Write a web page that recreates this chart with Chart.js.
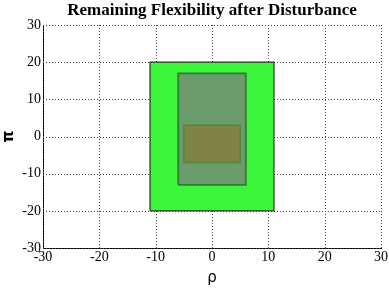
<!DOCTYPE html>
<html>
<head>
<meta charset="utf-8">
<script src="https://cdn.jsdelivr.net/npm/chart.js@4"></script>
<style>
  html, body { margin: 0; padding: 0; background: #fff; }
  #wrap { width: 389px; height: 289px; }
</style>
</head>
<body>
<div id="wrap"><canvas id="myChart" width="389" height="289"></canvas></div>
<script>
// rectangles as [xmin, xmax, ymin, ymax]
const outerBox = [-11, 11, -20, 20];
const middleBox = [-6, 6, -13, 17];
const innerBox = [-5, 5, -7, 3];
const tickValues = [-30, -20, -10, 0, 10, 20, 30];
const titleText = 'Remaining Flexibility after Disturbance';

function corners(b) {
    return [
        { x: b[0], y: b[2] }, { x: b[1], y: b[2] },
        { x: b[1], y: b[3] }, { x: b[0], y: b[3] },
        { x: b[0], y: b[2] }
    ];
}

const ctx = document.getElementById('myChart');
const myChart = new Chart(ctx, {
    type: 'scatter',
    data: {
        datasets: [
            {
                data: corners(outerBox),
                showLine: true,
                fill: 'shape',
                backgroundColor: '#3df53d',
                borderColor: '#1e3a1e',
                borderWidth: 1.2,
                pointRadius: 0,
                tension: 0,
                order: 3
            },
            {
                data: corners(middleBox),
                showLine: true,
                fill: 'shape',
                backgroundColor: '#6c9c6c',
                borderColor: '#2f7d2f',
                borderWidth: 1.8,
                pointRadius: 0,
                tension: 0,
                order: 2
            },
            {
                data: corners(innerBox),
                showLine: true,
                fill: 'shape',
                backgroundColor: '#7f8446',
                borderColor: '#4c8a3a',
                borderWidth: 1.5,
                pointRadius: 0,
                tension: 0,
                order: 1
            }
        ]
    },
    options: {
        responsive: false,
        animation: false,
        layout: { padding: { left: 0, right: 7, top: 25, bottom: 0 } },
        plugins: {
            legend: { display: false },
            tooltip: { enabled: false },
            title: { display: false }
        },
        scales: {
            x: {
                type: 'linear',
                min: -30, max: 30,
                afterBuildTicks: (s) => { s.ticks = tickValues.map(v => ({ value: v })); },
                afterFit: (s) => { s.height = 41; },
                ticks: {
                    color: '#000',
                    font: { family: 'Liberation Serif', size: 14 },
                    padding: 1,
                    maxRotation: 0
                },
                grid: { display: false, drawTicks: false },
                border: { display: true, color: '#000', width: 1 },
                title: {
                    display: true,
                    text: 'ρ',
                    color: '#000',
                    font: { family: 'DejaVu Sans', size: 15 },
                    padding: { top: 0, bottom: 2 }
                }
            },
            y: {
                type: 'linear',
                min: -30, max: 30,
                afterBuildTicks: (s) => { s.ticks = tickValues.map(v => ({ value: v })); },
                afterFit: (s) => { s.width = 43; },
                ticks: {
                    color: '#000',
                    font: { family: 'Liberation Serif', size: 14 },
                    padding: 2
                },
                grid: { display: false, drawTicks: false },
                border: { display: true, color: '#000', width: 1 },
                title: {
                    display: true,
                    text: 'π',
                    color: '#000',
                    font: { family: 'DejaVu Sans', size: 15, weight: 'bold' },
                    padding: { top: 0, bottom: 0 }
                }
            }
        }
    },
    plugins: [{
        id: 'dottedGrid',
        beforeDatasetsDraw(chart) {
            const c = chart.ctx, a = chart.chartArea;
            const xs = chart.scales.x, ys = chart.scales.y;
            c.save();
            c.strokeStyle = '#444';
            c.lineWidth = 1;
            c.setLineDash([1, 2]);
            tickValues.forEach(v => {
                const px = Math.round(xs.getPixelForValue(v)) + 0.5;
                const py = Math.round(ys.getPixelForValue(v)) + 0.5;
                c.beginPath(); c.moveTo(px, a.top); c.lineTo(px, a.bottom); c.stroke();
                c.beginPath(); c.moveTo(a.left, py); c.lineTo(a.right, py); c.stroke();
            });
            c.restore();
        },
        afterDraw(chart) {
            // title centred over the plot area
            const c = chart.ctx, a = chart.chartArea;
            c.save();
            c.fillStyle = '#000';
            c.font = 'bold 17px "Liberation Serif"';
            c.textAlign = 'center';
            c.textBaseline = 'middle';
            c.fillText(titleText, (a.left + a.right) / 2, 11);
            c.restore();
        }
    }]
});
</script>
</body>
</html>
